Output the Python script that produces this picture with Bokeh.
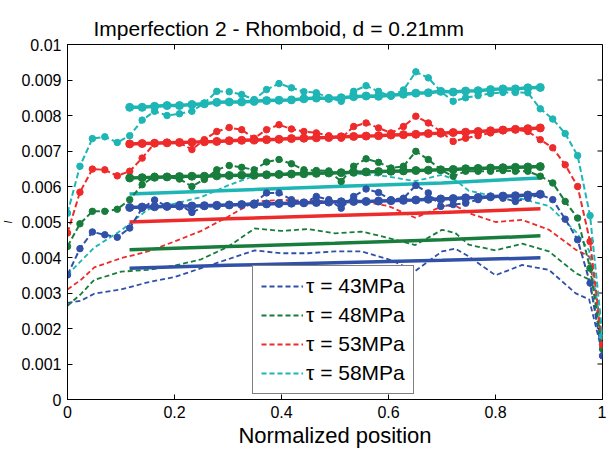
import numpy as np
from bokeh.plotting import figure
from bokeh.models import (ColumnDataSource, Range1d, FixedTicker,
                          CustomJSTickFormatter, Legend, LegendItem)
from bokeh.embed import file_html
from bokeh.resources import INLINE

# ---------------- data (I values in units of 1e-3) ----------------
title_text = "Imperfection 2 - Rhomboid, d = 0.21mm"
legend_labels = ["τ = 43MPa", "τ = 48MPa", "τ = 53MPa", "τ = 58MPa"]
colors = ["#3151A8", "#187D3C", "#EE2A2A", "#1EB5B5"]

x_ticks = [0, 0.2, 0.4, 0.6, 0.8, 1.0]
y_ticks = [0, 0.001, 0.002, 0.003, 0.004, 0.005, 0.006, 0.007, 0.008, 0.009, 0.01]

# measured profile (dashed with dots), 44 equally spaced positions
x_dots = np.linspace(0, 1, 44)
dots_43 = [3.51, 4.25, 4.72, 4.64, 4.57, 4.83, 5.39, 5.62, 5.44, 5.49,
           5.27, 5.44, 5.44, 5.49, 5.50, 5.53, 5.82, 5.82, 5.63, 5.53,
           5.72, 5.63, 5.39, 5.72, 5.93, 5.83, 5.63, 5.67, 6.03, 5.82,
           5.44, 5.49, 5.53, 5.63, 5.72, 5.67, 5.58, 5.67, 5.77, 5.63,
           5.08, 4.50, 3.28, 1.23]
dots_48 = [4.31, 4.95, 5.30, 5.30, 5.36, 5.63, 6.05, 6.29, 6.27, 6.21,
           6.00, 6.20, 6.47, 6.59, 6.54, 6.47, 6.69, 6.76, 6.64, 6.47,
           6.45, 6.44, 6.14, 6.57, 6.78, 6.68, 6.52, 6.57, 6.99, 6.76,
           6.47, 6.29, 6.43, 6.43, 6.43, 6.45, 6.43, 6.43, 6.29, 6.10,
           5.58, 5.11, 3.70, 1.42]
dots_53 = [4.69, 5.84, 6.49, 6.47, 6.30, 6.43, 6.80, 7.22, 7.24, 7.24,
           7.04, 7.32, 7.55, 7.66, 7.60, 7.36, 7.60, 7.74, 7.62, 7.55,
           7.51, 7.43, 7.36, 7.69, 7.79, 7.65, 7.51, 7.69, 7.98, 7.79,
           7.55, 7.27, 7.36, 7.43, 7.51, 7.57, 7.60, 7.55, 7.32, 7.09,
           6.61, 6.00, 4.45, 1.54]
dots_58 = [5.25, 6.57, 7.35, 7.40, 7.24, 7.43, 7.87, 8.12, 8.00, 8.05,
           8.12, 8.35, 8.68, 8.67, 8.59, 8.45, 8.73, 8.90, 8.78, 8.67,
           8.64, 8.50, 8.40, 8.68, 8.84, 8.68, 8.54, 8.72, 9.23, 9.06,
           8.68, 8.40, 8.50, 8.56, 8.62, 8.65, 8.65, 8.64, 8.19, 7.90,
           7.49, 6.87, 5.18, 1.79]

# fitted upper curves (thick, with dots), positions 5..38 of x_dots
fit_start, fit_end = 5, 39
fit_43 = [5.41, 5.42, 5.43, 5.44, 5.45, 5.45, 5.46, 5.47, 5.48, 5.49,
          5.50, 5.51, 5.52, 5.53, 5.54, 5.55, 5.56, 5.57, 5.58, 5.58,
          5.59, 5.60, 5.61, 5.62, 5.64, 5.65, 5.66, 5.68, 5.69, 5.71,
          5.73, 5.74, 5.76, 5.78]
fit_48 = [6.24, 6.25, 6.26, 6.27, 6.28, 6.29, 6.29, 6.30, 6.31, 6.32,
          6.32, 6.33, 6.34, 6.35, 6.36, 6.37, 6.38, 6.39, 6.40, 6.41,
          6.42, 6.43, 6.44, 6.45, 6.46, 6.47, 6.48, 6.50, 6.51, 6.52,
          6.53, 6.54, 6.55, 6.56]
fit_53 = [7.20, 7.21, 7.22, 7.23, 7.24, 7.25, 7.26, 7.27, 7.29, 7.30,
          7.31, 7.32, 7.33, 7.35, 7.36, 7.37, 7.38, 7.40, 7.41, 7.42,
          7.43, 7.45, 7.46, 7.47, 7.49, 7.50, 7.52, 7.53, 7.55, 7.57,
          7.59, 7.61, 7.63, 7.65]
fit_58 = [8.23, 8.23, 8.26, 8.28, 8.28, 8.31, 8.33, 8.37, 8.38, 8.38,
          8.40, 8.42, 8.43, 8.44, 8.47, 8.49, 8.48, 8.50, 8.53, 8.55,
          8.54, 8.57, 8.60, 8.63, 8.64, 8.68, 8.66, 8.69, 8.70, 8.73,
          8.75, 8.75, 8.78, 8.79]

# lower (simulated) profile, thin dashed
x_lower = [0, 0.025, 0.05, 0.1, 0.15, 0.2, 0.25, 0.3, 0.35, 0.4, 0.45, 0.5,
           0.55, 0.6, 0.65, 0.7, 0.725, 0.75, 0.8, 0.85, 0.9, 0.95, 0.975, 1.0]
lower_43 = [2.72, 2.78, 2.98, 3.10, 3.30, 3.45, 3.70, 3.95, 4.20, 4.12, 4.12, 4.17,
            4.17, 3.95, 3.62, 4.17, 4.25, 4.03, 3.50, 3.79, 3.65, 2.99, 2.82, 1.30]
lower_48 = [2.64, 2.97, 3.37, 3.60, 3.65, 3.77, 3.95, 4.30, 4.82, 4.75, 4.80, 4.68,
            4.73, 4.55, 4.35, 4.78, 4.69, 4.36, 4.20, 4.39, 4.17, 3.56, 3.38, 1.45]
lower_53 = [3.10, 3.37, 3.72, 3.98, 4.17, 4.45, 4.75, 5.15, 5.58, 5.62, 5.60, 5.58,
            5.58, 5.45, 5.12, 5.44, 5.46, 5.25, 5.00, 5.06, 4.78, 4.22, 4.03, 1.55]
lower_58 = [3.51, 3.90, 4.28, 4.76, 5.35, 5.52, 5.70, 6.03, 6.30, 6.37, 6.38, 6.38,
            6.35, 6.28, 6.15, 6.33, 6.18, 5.88, 5.72, 5.65, 5.45, 4.73, 4.20, 1.80]

# lower fitted curves (solid, no markers)
x_lower_fit = [0.116, 0.3, 0.5, 0.7, 0.884]
lower_fit_43 = [3.70, 3.78, 3.85, 3.92, 3.99]
lower_fit_48 = [4.22, 4.31, 4.40, 4.50, 4.61]
lower_fit_53 = [5.00, 5.09, 5.18, 5.27, 5.37]
lower_fit_58 = [5.79, 5.89, 6.00, 6.10, 6.24]

dots_all = [dots_43, dots_48, dots_53, dots_58]
fit_all = [fit_43, fit_48, fit_53, fit_58]
lower_all = [lower_43, lower_48, lower_53, lower_58]
lower_fit_all = [lower_fit_43, lower_fit_48, lower_fit_53, lower_fit_58]

SCALE = 1e-3
FONT = "Liberation Sans"
X0, X1, Y0, Y1 = 0, 1, 0, 0.01

# ---------------- figure ----------------
p = figure(width=606, height=450, x_range=Range1d(X0, X1), y_range=Range1d(Y0, Y1),
           output_backend="svg", toolbar_location=None,
           min_border_left=67, min_border_right=4, min_border_top=44, min_border_bottom=50,
           background_fill_color="white", border_fill_color="white",
           outline_line_color="black", outline_line_width=1)
p.grid.visible = False

p.title.text = title_text
p.title.align = "left"
p.title.offset = 26
p.title.text_font = FONT
p.title.text_font_size = "21px"
p.title.text_font_style = "normal"
p.title.text_color = "black"

fmt = CustomJSTickFormatter(code="return String(parseFloat(tick.toFixed(4)));")

xa = p.xaxis[0]
xa.ticker = FixedTicker(ticks=x_ticks)
xa.formatter = fmt
xa.axis_label = "Normalized position"
ya = p.yaxis[0]
ya.ticker = FixedTicker(ticks=y_ticks)
ya.formatter = fmt
ya.axis_label = "I"
ya.axis_label_text_font_style = "italic"
ya.axis_label_text_font_size = "10px"

for ax in (xa, ya):
    ax.major_tick_in = 5
    ax.major_tick_out = 0
    ax.minor_tick_line_color = None
    ax.axis_line_color = "black"
    ax.major_label_text_font = FONT
    ax.major_label_text_font_size = "16px"
    ax.major_label_text_color = "black"
    ax.axis_label_text_font = FONT
    ax.axis_label_text_color = "black"
    ax.major_label_standoff = 6
xa.axis_label_text_font_size = "22px"
xa.axis_label_text_font_style = "normal"
xa.axis_label_standoff = 2
ya.axis_label_standoff = 4

# inward tick marks on the top and right frame edges (half of each dash is clipped by the frame)
p.scatter(x=x_ticks, y=[Y1] * len(x_ticks), marker="dash", size=10, angle=np.pi / 2,
          line_color="black", line_width=1)
p.scatter(x=[X1] * len(y_ticks), y=y_ticks, marker="dash", size=10,
          line_color="black", line_width=1)

# ---------------- glyphs ----------------
legend_items = []
for k in range(4):
    c = colors[k]
    src_low = ColumnDataSource(dict(x=x_lower, y=np.array(lower_all[k]) * SCALE))
    r_low = p.line("x", "y", source=src_low, line_color=c, line_width=1.8, line_dash="5 3")
    legend_items.append(LegendItem(label=legend_labels[k], renderers=[r_low]))

for k in range(4):
    c = colors[k]
    src_lf = ColumnDataSource(dict(x=x_lower_fit, y=np.array(lower_fit_all[k]) * SCALE))
    p.line("x", "y", source=src_lf, line_color=c, line_width=3.5)

for k in range(4):
    c = colors[k]
    src_d = ColumnDataSource(dict(x=x_dots, y=np.array(dots_all[k]) * SCALE))
    p.line("x", "y", source=src_d, line_color=c, line_width=2, line_dash="6 3")
    p.scatter("x", "y", source=src_d, size=6.5, fill_color=c, line_color=c)

for k in range(4):
    c = colors[k]
    src_f = ColumnDataSource(dict(x=x_dots[fit_start:fit_end], y=np.array(fit_all[k]) * SCALE))
    p.line("x", "y", source=src_f, line_color=c, line_width=3.5)
    p.scatter("x", "y", source=src_f, size=8, fill_color=c, line_color=c)

legend = Legend(items=legend_items, location=(185, 5),
                border_line_color="black", border_line_width=1,
                background_fill_color="white", background_fill_alpha=1,
                label_text_font=FONT, label_text_font_size="21px", label_text_color="black",
                glyph_width=42, glyph_height=20, label_height=20, spacing=5,
                padding=8, margin=0, label_standoff=3)
p.add_layout(legend)

open("out.html", "w").write(file_html(p, INLINE))
